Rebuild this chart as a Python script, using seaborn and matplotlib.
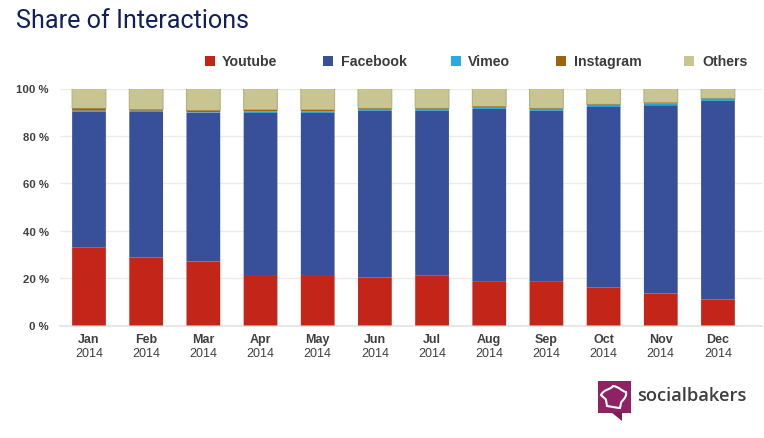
import matplotlib
matplotlib.use("Agg")
import matplotlib.pyplot as plt
from matplotlib.patches import Rectangle, Polygon, PathPatch
from matplotlib.path import Path
import numpy as np
import pandas as pd
import seaborn as sns

months = ["Jan", "Feb", "Mar", "Apr", "May", "Jun", "Jul", "Aug", "Sep", "Oct", "Nov", "Dec"]
year = "2014"
youtube = [33.0, 28.7, 27.0, 21.3, 21.3, 20.3, 21.0, 18.7, 18.7, 16.0, 13.5, 11.0]
facebook = [57.2, 61.6, 62.7, 68.4, 68.4, 70.3, 69.6, 72.7, 71.9, 76.2, 79.4, 83.8]
vimeo = [0.4, 0.3, 0.2, 0.7, 0.7, 0.8, 0.8, 0.8, 0.8, 0.9, 0.9, 0.9]
instagram = [1.0, 0.5, 0.8, 0.6, 0.6, 0.2, 0.2, 0.2, 0.2, 0.2, 0.2, 0.1]
others = [8.4, 8.9, 9.3, 9.0, 9.0, 8.4, 8.4, 7.6, 8.4, 6.7, 6.0, 4.2]

names = ["Youtube", "Facebook", "Vimeo", "Instagram", "Others"]
colors = ["#C32519", "#38509A", "#1FA6E0", "#9C6412", "#C9C592"]
legend_colors = ["#C32519", "#38509A", "#29ABE2", "#9C6412", "#C9C592"]
edges = ["none", "none", "none", "none", "#B5B17F"]
widths = [0, 0, 0, 0, 0.8]
series = [youtube, facebook, vimeo, instagram, others]

W, H = 764, 439
sns.set_theme(style="white")
plt.rcParams["font.family"] = ["Liberation Sans", "DejaVu Sans"]
fig = plt.figure(figsize=(W / 100, H / 100), dpi=100, facecolor="white")
L, R, T, B = 60, 762, 89.5, 326.5
ax = fig.add_axes([L / W, 1 - B / H, (R - L) / W, (B - T) / H])

labels = [f"{m}\n{year}" for m in months]
bottoms = np.cumsum([np.zeros(len(months))] + [np.array(s) for s in series[:-1]], axis=0)
# drawn top series first so the outline of Others does not cover the thin bands
for k in range(len(series) - 1, -1, -1):
    df = pd.DataFrame({"month": labels, "share": series[k]})
    sns.barplot(data=df, x="month", y="share", ax=ax, color=colors[k], saturation=1, width=0.59,
                bottom=bottoms[k], edgecolor=edges[k], linewidth=widths[k], zorder=3, errorbar=None)
for p in ax.patches:
    p.set_snap(False)

ax.set_xlim(-0.507, 11.77)
ax.set_ylim(0, 100)
ax.set_xlabel("")
ax.set_ylabel("")
ax.set_yticks([0, 20, 40, 60, 80, 100])
ax.set_yticklabels(["0 %", "20 %", "40 %", "60 %", "80 %", "100 %"],
                   fontsize=8.2, fontweight="bold", color="#404040")
ax.grid(axis="y", color="#EBEBEB", linewidth=1, zorder=0)
ax.set_axisbelow(True)
for s in ax.spines.values():
    s.set_visible(False)
ax.spines["bottom"].set_visible(True)
ax.spines["bottom"].set_color("#E4E4E4")
ax.tick_params(axis="both", length=0, pad=8)
ax.set_xticks(range(12))
ax.set_xticklabels([])
for i, m in enumerate(months):
    ax.annotate(m, (i, 0), xytext=(0, -8), textcoords="offset pixels", ha="center", va="top",
                fontsize=9, fontweight="bold", color="#404040", annotation_clip=False)
    ax.annotate(year, (i, 0), xytext=(0, -22), textcoords="offset pixels", ha="center", va="top",
                fontsize=9, color="#404040", annotation_clip=False)

fig.text(16 / W, 1 - 20.5 / H, "Share of Interactions", fontsize=18.1, color="#0F1F5C",
         family=["Roboto", "DejaVu Sans"], va="center", ha="left")

# legend
lx = [205, 323, 451, 556, 684]
tx = [222, 341, 468, 574, 702]
for x, t, name, c in zip(lx, tx, names, legend_colors):
    fig.patches.append(Rectangle((x / W, 1 - 67 / H), 10 / W, 10 / H, transform=fig.transFigure,
                                 facecolor=c, edgecolor="none"))
    fig.text(t / W, 1 - 62 / H, name, fontsize=10.2, fontweight="bold", color="#3C3C3C",
             va="center", ha="left")

# logo
def fx(x): return x / W
def fy(y): return 1 - y / H
fig.patches.append(Rectangle((fx(598), fy(413.5)), 32.5 / W, 32 / H, transform=fig.transFigure,
                             facecolor="#8E2263", edgecolor="none"))
fig.patches.append(Polygon([(fx(611), fy(413)), (fx(622), fy(413)), (fx(622), fy(422))],
                           transform=fig.transFigure, facecolor="#7D1C56", edgecolor="none"))
hat = [(607, 407), (606, 401), (606, 400), (604, 399), (601, 396), (604, 390), (610, 391),
       (613, 387), (620, 388), (621, 392), (626, 393), (627, 399), (622, 401), (621, 404),
       (620, 409), (619, 409), (607, 407)]
codes = [Path.MOVETO, Path.LINETO, Path.CURVE4, Path.CURVE4, Path.CURVE4, Path.CURVE4, Path.CURVE4,
         Path.CURVE4, Path.CURVE4, Path.CURVE4, Path.CURVE4, Path.CURVE4, Path.CURVE4, Path.LINETO,
         Path.LINETO, Path.LINETO, Path.CLOSEPOLY]
fig.patches.append(PathPatch(Path([(fx(a), fy(b)) for a, b in hat], codes), transform=fig.transFigure,
                             facecolor="none", edgecolor="white", linewidth=1.5))
fig.text(fx(637), fy(396), "socialbakers", fontsize=13.2, color="#3F3F3F", fontweight="semibold",
         family=["Open Sans", "DejaVu Sans"], va="center", ha="left")

fig.savefig("out.png", dpi=100, facecolor="white")
